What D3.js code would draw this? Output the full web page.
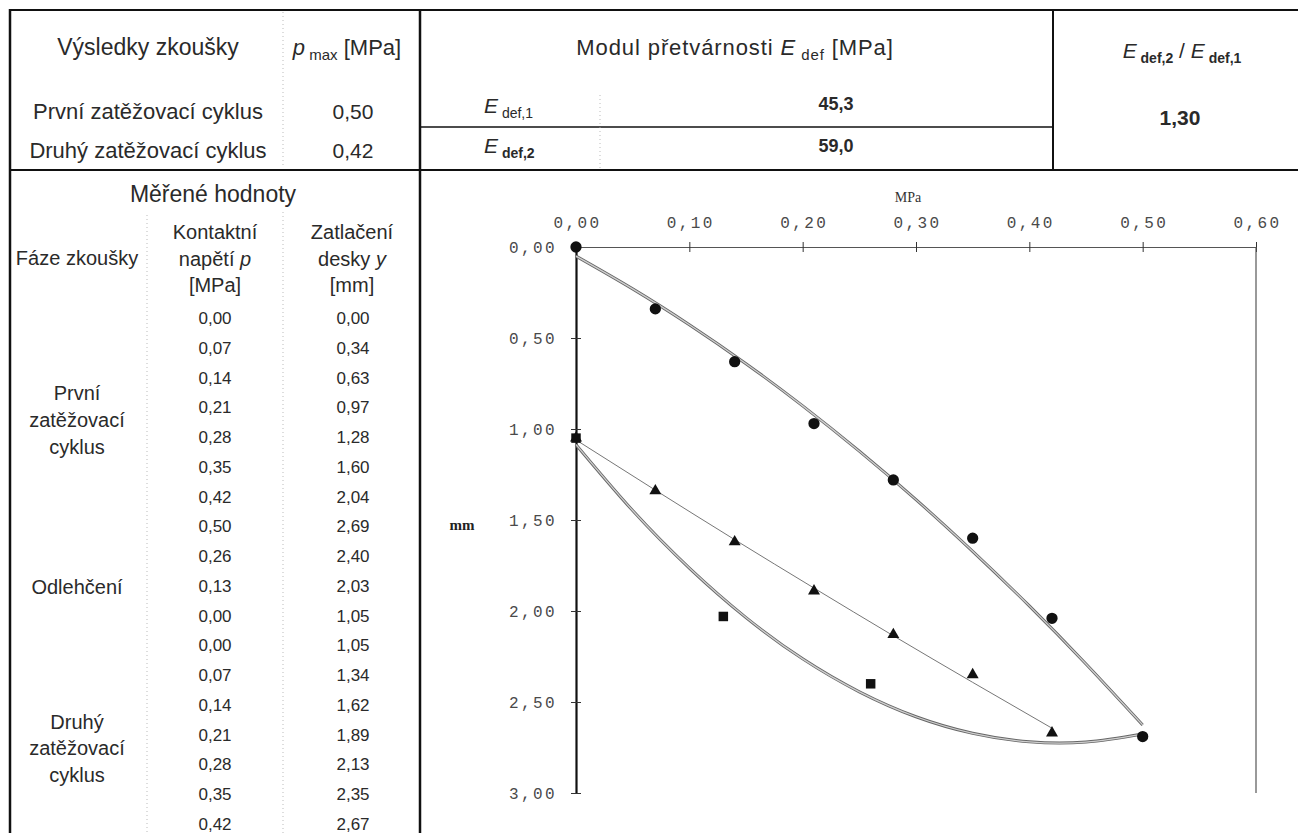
<!DOCTYPE html>
<html>
<head>
<meta charset="utf-8">
<title>Statická zatěžovací zkouška deskou</title>
<style>
  body { margin: 0; background: #fff; }
  text { font-family: "Liberation Sans", Arial, sans-serif; fill: #2a2a2a; }
  .tick text { font-family: "Liberation Mono", monospace; font-size: 16px; letter-spacing: 2.4px; fill: #4a4a4a; }
</style>
</head>
<body>
<div id="chart"></div>
<script src="https://cdn.jsdelivr.net/npm/d3@7/dist/d3.min.js"></script>
<script>
// naměřené hodnoty
const load1P = [0.00, 0.07, 0.14, 0.21, 0.28, 0.35, 0.42, 0.50];
const load1Y = [0.00, 0.34, 0.63, 0.97, 1.28, 1.60, 2.04, 2.69];
const unloadP = [0.26, 0.13, 0.00];
const unloadY = [2.40, 2.03, 1.05];
const load2P = [0.00, 0.07, 0.14, 0.21, 0.28, 0.35, 0.42];
const load2Y = [1.05, 1.34, 1.62, 1.89, 2.13, 2.35, 2.67];

// vysledky
const pMax = ['0,50', '0,42'];
const eDef = ['45,3', '59,0'];
const ratio = '1,30';

// trendove krivky
const trendP = [0.00, 0.05, 0.10, 0.15, 0.20, 0.25, 0.30, 0.35, 0.40, 0.45, 0.50];
const trend1Y = [0.050, 0.230, 0.427, 0.641, 0.873, 1.122, 1.388, 1.672, 1.972, 2.291, 2.626];
const trendUnY = [1.086, 1.448, 1.764, 2.036, 2.263, 2.444, 2.581, 2.672, 2.719, 2.720, 2.676];
const trend2P = [0.00, 0.07, 0.14, 0.21, 0.28, 0.35, 0.42];
const trend2Y = [1.060, 1.336, 1.608, 1.874, 2.136, 2.392, 2.644];

const xTicks = [0, 0.1, 0.2, 0.3, 0.4, 0.5, 0.6];
const yTicks = [0, 0.5, 1.0, 1.5, 2.0, 2.5, 3.0];

const W = 1298, H = 833;
const svg = d3.select('#chart').append('svg').attr('width', W).attr('height', H);

const fmt = d => d3.format('.2f')(d).replace('.', ',');

function line(x1, y1, x2, y2, w, dash, col) {
  svg.append('line')
    .attr('x1', x1).attr('y1', y1).attr('x2', x2).attr('y2', y2)
    .attr('stroke', col || '#111').attr('stroke-width', w)
    .attr('stroke-dasharray', dash || null);
}

// text s indexy: parts = [[text, {i:italic, s:sub, b:bold}], ...]
function rich(x, y, size, parts, anchor) {
  const t = svg.append('text').attr('x', x).attr('y', y)
    .attr('text-anchor', anchor || 'middle').style('font-size', size + 'px');
  let down = false;
  parts.forEach(p => {
    const o = p[1] || {};
    const s = t.append('tspan').text(p[0]);
    if (o.i) s.style('font-style', 'italic');
    if (o.b) s.style('font-weight', 'bold');
    if (o.s) { s.style('font-size', Math.round(size * 0.66) + 'px'); if (!down) s.attr('dy', 5); down = true; }
    else if (down) { s.attr('dy', -5); down = false; }
  });
  return t;
}
function label(x, y, size, str, weight) {
  return svg.append('text').attr('x', x).attr('y', y).attr('text-anchor', 'middle')
    .style('font-size', size + 'px').style('font-weight', weight || null).text(str);
}

//================ tabulka - cary ================
line(10, 10, W, 10, 2);
line(10, 170, W, 170, 2);
line(420, 127, 1053, 127, 1.5);
line(10, 9, 10, H, 2.5);
line(420, 9, 420, H, 2.5);
line(1053, 9, 1053, 171, 2);
line(283, 12, 283, 168, 0.8, '1,3', '#aaa');
line(600, 95, 600, 168, 0.8, '1,3', '#aaa');
line(283, 212, 283, H, 0.8, '1,3', '#aaa');
line(147, 215, 147, H, 0.8, '1,3', '#aaa');

//================ tabulka - horni cast ================
label(148, 55, 23, 'Výsledky zkoušky');
rich(347, 55, 22, [['p', {i: 1}], [' max', {s: 1}], [' [MPa]']]);
label(148, 119, 22, 'První zatěžovací cyklus');
label(148, 158, 22, 'Druhý zatěžovací cyklus');
label(353, 119, 21, pMax[0]);
label(353, 158, 21, pMax[1]);

rich(735, 55, 22, [['Modul přetvárnosti '], ['E', {i: 1}], [' def', {s: 1}], [' [MPa]']])
  .style('letter-spacing', '0.9px');
rich(484, 113, 21, [['E', {i: 1}], [' def,1', {s: 1}]], 'start');
rich(484, 153, 21, [['E', {i: 1}], [' def,2', {s: 1, b: 1}]], 'start');
label(836, 110, 18, eDef[0], 'bold');
label(836, 152, 18, eDef[1], 'bold');

rich(1182, 58, 21, [['E', {i: 1}], [' def,2', {s: 1, b: 1}], [' / '], ['E', {i: 1}], [' def,1', {s: 1, b: 1}]]);
label(1180, 125, 21, ratio, 'bold');

//================ tabulka - merene hodnoty ================
label(213, 202, 23, 'Měřené hodnoty');
label(77, 265, 20, 'Fáze zkoušky');
label(215, 239, 20, 'Kontaktní');
rich(215, 266, 20, [['napětí '], ['p', {i: 1}]]);
label(215, 292, 20, '[MPa]');
label(352, 239, 20, 'Zatlačení');
rich(352, 266, 20, [['desky '], ['y', {i: 1}]]);
label(352, 292, 20, '[mm]');

const rowsP = load1P.concat(unloadP, load2P);
const rowsY = load1Y.concat(unloadY, load2Y);
const rowY = i => 318 + i * 29.76;
svg.append('g').selectAll('text.p').data(rowsP).join('text')
  .attr('x', 215).attr('y', (d, i) => rowY(i) + 6).attr('text-anchor', 'middle')
  .style('font-size', '17px').text(fmt);
svg.append('g').selectAll('text.y').data(rowsY).join('text')
  .attr('x', 353).attr('y', (d, i) => rowY(i) + 6).attr('text-anchor', 'middle')
  .style('font-size', '17px').text(fmt);

label(77, 400, 20, 'První');
label(77, 427, 20, 'zatěžovací');
label(77, 454, 20, 'cyklus');
label(77, 594, 20, 'Odlehčení');
label(77, 729, 20, 'Druhý');
label(77, 755, 20, 'zatěžovací');
label(77, 782, 20, 'cyklus');

//================ graf ================
const x = d3.scaleLinear().domain([0, 0.6]).range([576, 1256]);
const y = d3.scaleLinear().domain([0, 3]).range([247, 793]);

const xAxis = svg.append('g').attr('transform', 'translate(0,' + y(0) + ')')
  .call(d3.axisTop(x).tickValues(xTicks).tickFormat(fmt)
    .tickSizeInner(5).tickSizeOuter(0).tickPadding(14));
xAxis.select('.domain').attr('stroke', '#555').attr('stroke-width', 1.2);
xAxis.selectAll('.tick line').attr('y1', 5).attr('stroke', '#333');
xAxis.selectAll('.tick text').attr('dx', 1);

const yAxis = svg.append('g').attr('transform', 'translate(' + x(0) + ',0)')
  .call(d3.axisLeft(y).tickValues(yTicks).tickFormat(fmt)
    .tickSizeInner(5).tickSizeOuter(0).tickPadding(14));
yAxis.select('.domain').attr('stroke', '#111').attr('stroke-width', 2.2);
yAxis.selectAll('.tick line').attr('x1', 5).attr('stroke', '#333');
yAxis.selectAll('.tick text').attr('font-family', null);

// pravy okraj grafu
line(x(0.6), y(0), x(0.6), y(3), 1.2, null, '#555');

svg.append('text').attr('x', 908).attr('y', 202).attr('text-anchor', 'middle')
  .style('font-family', '"Liberation Serif", serif').style('font-size', '14px').style('fill', '#333').text('MPa');
svg.append('text').attr('x', 462).attr('y', 530).attr('text-anchor', 'middle')
  .style('font-family', '"Liberation Serif", serif').style('font-size', '15px').style('font-weight', 'bold')
  .style('fill', '#222').text('mm');

// trendy
const curve = d3.line().x(d => x(d[0])).y(d => y(d[1])).curve(d3.curveNatural);
const tr1 = d3.zip(trendP, trend1Y);
const trU = d3.zip(trendP, trendUnY);
const tr2 = d3.zip(trend2P, trend2Y);
[tr1, trU].forEach(pts => {
  svg.append('path').attr('d', curve(pts)).attr('fill', 'none').attr('stroke', '#666').attr('stroke-width', 3);
  svg.append('path').attr('d', curve(pts)).attr('fill', 'none').attr('stroke', '#cfcfcf').attr('stroke-width', 1.3);
});
svg.append('path').attr('d', curve(tr2)).attr('fill', 'none').attr('stroke', '#777').attr('stroke-width', 1);

// body
function marks(P, Y, type, size) {
  svg.append('g').selectAll('path').data(d3.zip(P, Y)).join('path')
    .attr('transform', d => 'translate(' + x(d[0]) + ',' + y(d[1]) + ')')
    .attr('d', d3.symbol().type(type).size(size))
    .attr('fill', '#111');
}
marks(load2P, load2Y, d3.symbolTriangle, 62);
marks(unloadP, unloadY, d3.symbolSquare, 90);
marks(load1P, load1Y, d3.symbolCircle, 100);
</script>
</body>
</html>
